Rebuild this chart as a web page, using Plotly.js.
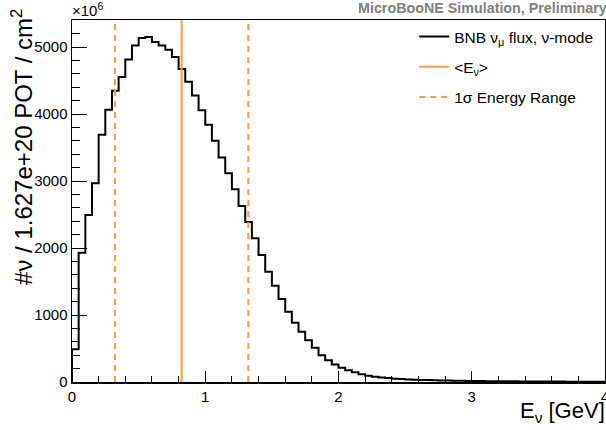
<!DOCTYPE html>
<html><head><meta charset="utf-8">
<script src="https://cdn.plot.ly/plotly-3.0.1.min.js"></script>
<style>html,body{margin:0;padding:0;background:#fff}</style>
</head><body><div id="chart" style="width:606px;height:430px"></div>
<script>
// Histogram binning (GeV)
const binWidth = 0.05;
const xMin = 0, xMax = 4;
// Flux per bin (units of 1e6 nu / 1.627e20 POT / cm^2)
const fluxValues = [
  490, 1930, 2493, 2967, 3689, 4063, 4347, 4551, 4815, 5024,
  5134, 5149, 5075, 5024, 4960, 4850, 4671, 4481, 4277, 4055,
  3840, 3599, 3350, 3117, 2877, 2628, 2389, 2145, 1895, 1646,
  1437, 1238, 1048, 883, 749, 625, 510, 401, 326, 262,
  211, 176, 146, 117, 95, 80, 68, 58, 50, 44,
  39, 35, 31, 28, 25, 23, 21, 19, 17, 16,
  15, 14, 13, 12, 11, 10, 10, 9, 8, 8,
  7, 7, 6, 6, 5, 5, 5, 4, 4, 4
];
const meanEnergy = 0.823;
const sigmaRange = [0.323, 1.323];
const yTop = 5403;
const legendNames = ['BNB ν<sub>μ</sub> flux, ν-mode', '<E<sub>ν</sub>>', '1σ Energy Range'];
const orange = '#ff9b38';
const FONT = 'Liberation Sans, Arial, Helvetica, sans-serif';

// step-line arrays built from bins
const hx = [xMin], hy = [0];
fluxValues.forEach((v, i) => { hx.push(xMin + i * binWidth); hy.push(v); });
hx.push(xMax); hy.push(fluxValues[fluxValues.length - 1]);

const traces = [
  {x: hx, y: hy, type: 'scatter', mode: 'lines', line: {shape: 'hv', color: '#000', width: 2},
   name: legendNames[0], legendgroup: 'a', hoverinfo: 'skip'},
  {x: [meanEnergy, meanEnergy], y: [0, yTop], type: 'scatter', mode: 'lines',
   line: {color: orange, width: 2}, name: legendNames[1], legendgroup: 'b'},
  {x: [sigmaRange[0], sigmaRange[0], null, sigmaRange[1], sigmaRange[1]], y: [0, yTop, null, 0, yTop],
   type: 'scatter', mode: 'lines', line: {color: orange, width: 2, dash: '6px,5px'},
   name: legendNames[2], legendgroup: 'c'}
];

const layout = {
  width: 606, height: 430,
  margin: {l: 72, r: 1, t: 20, b: 48},
  paper_bgcolor: '#fff', plot_bgcolor: '#fff',
  font: {family: FONT, color: '#000', size: 15},
  showlegend: true,
  legend: {x: 0.642, y: 1.0, xanchor: 'left', yanchor: 'top', bgcolor: 'rgba(0,0,0,0)',
           font: {size: 15.5, family: FONT}, tracegroupgap: 7, itemwidth: 30},
  xaxis: {range: [xMin, xMax], showgrid: false, zeroline: false, showline: true, linecolor: '#000', linewidth: 1.5,
          mirror: true, ticks: 'inside', ticklen: 11, tickwidth: 1, tickcolor: '#000', dtick: 1, tick0: 0,
          ticklabeloverflow: 'allow',
          minor: {ticks: 'inside', ticklen: 6, tickwidth: 1, tickcolor: '#000', dtick: 0.2},
          tickfont: {size: 15}},
  yaxis: {range: [0, yTop], showgrid: false, zeroline: false, showline: true, linecolor: '#000', linewidth: 1.5,
          mirror: true, ticks: 'inside', ticklen: 15, tickwidth: 1, tickcolor: '#000', dtick: 1000, tick0: 0,
          minor: {ticks: 'inside', ticklen: 8, tickwidth: 1, tickcolor: '#000', dtick: 200},
          tickfont: {size: 15}},
  annotations: [
    {text: '#ν / 1.627e+20 POT / cm<sup>2</sup>', textangle: -90, xref: 'paper', yref: 'paper',
     x: -0.094, y: 0.649, xanchor: 'center', yanchor: 'middle', showarrow: false, font: {size: 24}},
    {text: 'E<sub>ν</sub> [GeV]', xref: 'paper', yref: 'paper', x: 1.004, y: -0.082,
     xanchor: 'right', yanchor: 'middle', showarrow: false, font: {size: 22}},
    {text: '<b>MicroBooNE Simulation, Preliminary</b>', xref: 'paper', yref: 'paper', x: 1.008, y: 1.033,
     xanchor: 'right', yanchor: 'middle', showarrow: false, font: {size: 14.3, color: '#808080'}},
    {text: '×10<sup>6</sup>', xref: 'paper', yref: 'paper', x: -0.004, y: 1.028,
     xanchor: 'left', yanchor: 'middle', showarrow: false, font: {size: 15}}
  ]
};
Plotly.newPlot('chart', traces, layout, {staticPlot: true, displayModeBar: false});
</script></body></html>
